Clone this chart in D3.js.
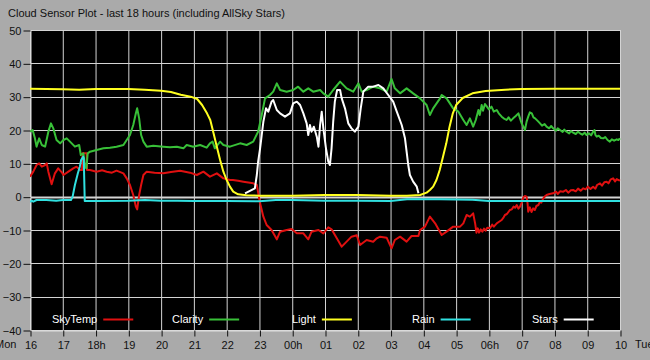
<!DOCTYPE html>
<html><head><meta charset="utf-8">
<script src="https://cdn.jsdelivr.net/npm/d3@7"></script>
<style>
html,body{margin:0;padding:0;background:#aaaaaa;}
svg{display:block;}
text{font-family:"Liberation Sans",Arial,sans-serif;}
</style></head>
<body>
<svg id="chart" width="650" height="360"></svg>
<script>
const title = "Cloud Sensor Plot - last 18 hours (including AllSky Stars)";
const xTickLabels = ["16","17","18h","19","20","21","22","23","00h","01","02","03","04","05","06h","07","08","09","10"];
const yTicks = [-40,-30,-20,-10,0,10,20,30,40,50];
const seriesNames = ["SkyTemp","Clarity","Light","Rain","Stars"];
const seriesColors = ["#e01010","#38c038","#ffff20","#30e0e0","#ffffff"];

// [hours since 16:00, value]
const skyTemp = [[0,6],[0.1,7.5],[0.2,9.5],[0.28,10],[0.36,9],[0.46,9.5],[0.51,10],[0.56,7.5],[0.66,3.7],[0.76,7],[0.86,8.5],[0.97,7.3],[1.02,6.5],[1.17,7.5],[1.32,8.5],[1.42,9],[1.53,8],[1.59,8],[1.6,13],[1.73,13],[1.74,8],[1.83,8],[2.03,7.5],[2.2,7.9],[2.34,7.5],[2.5,7.2],[2.64,7.8],[2.85,7],[2.95,5.5],[3.05,3.5],[3.15,0.5],[3.23,-3],[3.27,-3.8],[3.33,0.5],[3.39,3.5],[3.46,6.5],[3.56,7.5],[3.8,7.2],[4.07,7],[4.3,7.4],[4.58,7.8],[4.88,7.2],[5.09,6.5],[5.29,7.5],[5.49,6],[5.7,7],[5.9,5.5],[6.1,5],[6.19,5],[6.35,4.8],[6.51,4.5],[6.81,4],[6.92,3.5],[7.02,-2],[7.12,-6],[7.22,-8.5],[7.37,-10],[7.53,-12.8],[7.63,-10.5],[7.83,-10],[7.98,-9.7],[8.14,-11],[8.34,-11],[8.49,-12.8],[8.59,-10.5],[8.8,-10],[8.95,-11],[9.1,-9.2],[9.2,-9.8],[9.36,-12.5],[9.51,-15],[9.66,-13.5],[9.81,-12],[9.97,-11.6],[10.07,-14.5],[10.27,-13],[10.47,-13.5],[10.58,-12.5],[10.68,-12],[10.88,-12.3],[11.03,-15.5],[11.13,-13],[11.29,-12],[11.49,-13.5],[11.64,-11.8],[11.85,-11.8],[11.9,-10],[12.05,-9],[12.2,-6],[12.36,-8],[12.56,-11.5],[12.71,-10.5],[12.91,-9],[13.12,-9],[13.22,-8],[13.32,-5.5],[13.42,-6],[13.52,-5],[13.58,-8],[13.62,-10.8],[13.66,-9.5],[13.7,-10.8],[13.75,-9.8],[13.8,-10.5],[13.85,-9.6],[13.9,-10.2],[13.95,-9.3],[14.03,-9.5],[14.1,-8.4],[14.15,-9],[14.24,-8],[14.3,-7.6],[14.39,-7],[14.45,-6.2],[14.49,-5.5],[14.55,-5.2],[14.64,-4],[14.7,-3.8],[14.75,-3],[14.8,-3.3],[14.85,-2.5],[14.9,-3.6],[14.95,-3],[15,-1.8],[15.05,-0.2],[15.1,0.2],[15.15,0],[15.18,-2],[15.2,-4.5],[15.25,-3.2],[15.3,-4.6],[15.35,-3.5],[15.4,-4],[15.45,-2.8],[15.51,-2.5],[15.56,-1.5],[15.6,-1.8],[15.66,-0.5],[15.72,0.2],[15.76,0.5],[15.85,0.8],[15.96,1],[16.05,1.5],[16.1,0.8],[16.17,1.6],[16.27,1.5],[16.35,2],[16.42,1.2],[16.5,1.9],[16.57,2],[16.65,1.6],[16.72,2.4],[16.8,1.8],[16.88,2.5],[16.95,2.2],[17.02,3],[17.1,2.3],[17.18,3],[17.25,2.4],[17.3,3.5],[17.39,4],[17.45,3.3],[17.52,4.3],[17.59,4.5],[17.65,4],[17.72,5.2],[17.79,5.5],[17.85,4.6],[17.9,5.3],[17.95,5],[18,4.8]];

const clarity = [[0,19.5],[0.08,20],[0.15,17.5],[0.2,15],[0.28,17.5],[0.36,15.5],[0.46,15],[0.56,19.5],[0.64,22],[0.71,20.5],[0.81,17],[0.92,16],[1.02,17],[1.12,17.5],[1.22,16.5],[1.37,15],[1.5,15.5],[1.55,12.5],[1.63,13],[1.68,9],[1.72,8.5],[1.76,13],[1.83,13.5],[2.03,14],[2.24,14.5],[2.44,14.7],[2.64,15],[2.85,15.5],[2.95,17],[3.05,18.5],[3.15,21.5],[3.23,25],[3.27,26.5],[3.33,23.5],[3.39,18.5],[3.46,16.5],[3.56,15],[3.76,15.3],[4.07,15],[4.27,14.8],[4.48,15],[4.68,14.5],[4.78,15.5],[4.98,15],[5.19,15.5],[5.39,14.7],[5.49,16],[5.57,16.5],[5.64,14.5],[5.8,16.5],[5.9,15.5],[6.1,15],[6.41,16],[6.61,15.5],[6.81,16.5],[6.96,19.5],[7.07,24.5],[7.17,29.5],[7.32,30.5],[7.42,31.5],[7.53,34],[7.63,32],[7.83,31.5],[8.03,32],[8.18,33],[8.34,31.5],[8.49,32.5],[8.64,31.5],[8.85,32],[8.95,31],[9.1,30],[9.25,32],[9.46,34.5],[9.66,32.5],[9.86,31.5],[10.02,34],[10.12,31.5],[10.27,32],[10.47,33],[10.68,32.5],[10.88,31.5],[11.03,35.3],[11.13,32.5],[11.29,31],[11.49,32.5],[11.69,31],[11.9,29.5],[12.1,27.5],[12.2,24.5],[12.3,26.5],[12.51,29.5],[12.56,30.5],[12.71,29.5],[12.91,26.5],[13.07,25.5],[13.22,23],[13.32,21.5],[13.42,23.5],[13.52,21],[13.6,23],[13.68,26],[13.72,24.5],[13.78,27.5],[13.82,25.8],[13.88,27.8],[13.94,27],[14,26.2],[14.08,27],[14.15,25.5],[14.24,26],[14.3,25],[14.39,24],[14.45,23.5],[14.54,23],[14.6,23.8],[14.67,22.8],[14.74,23.5],[14.82,24.2],[14.9,25],[14.95,23.5],[15,22],[15.05,21],[15.1,20],[15.15,22.5],[15.2,24],[15.25,25.3],[15.31,25],[15.36,23.8],[15.41,23.5],[15.48,22.8],[15.56,22],[15.62,21.3],[15.7,21.8],[15.76,21],[15.84,20.5],[15.9,21.2],[15.96,20.5],[16.05,19.8],[16.1,20.5],[16.17,20],[16.25,19.4],[16.3,20.1],[16.37,19.5],[16.45,19],[16.5,19.7],[16.57,19.2],[16.65,18.8],[16.72,19.5],[16.78,19],[16.85,18.6],[16.92,19.2],[16.98,18.5],[17.05,19],[17.12,18.4],[17.18,19.5],[17.22,20],[17.25,18.5],[17.29,18],[17.35,18.3],[17.42,17.6],[17.49,17.5],[17.55,17.9],[17.62,17],[17.69,16.5],[17.75,17.2],[17.82,16.8],[17.9,17.2],[17.95,17],[18,17.5]];

const light = [[0,32.4],[0.5,32.3],[1,32.2],[1.5,32.1],[2,32.3],[2.5,32.3],[3,32.3],[3.5,32.1],[4,31.8],[4.3,31.4],[4.6,30.6],[4.9,30],[5.1,29.3],[5.25,27.5],[5.4,25],[5.5,23],[5.6,19],[5.7,15],[5.8,11],[5.9,7.5],[6,5],[6.1,3],[6.2,1.5],[6.35,0.7],[6.6,0.4],[7,0.3],[8,0.3],[9,0.5],[10,0.5],[11,0.3],[11.5,0.3],[11.9,0.5],[12.1,1.2],[12.2,2],[12.3,3],[12.4,5],[12.5,8],[12.6,12],[12.7,16],[12.8,21],[12.9,25],[13,27.5],[13.2,29.6],[13.5,31],[13.9,31.7],[14.5,32.1],[15,32.3],[16,32.4],[17,32.4],[18,32.4]];

const rain = [[0,-1.6],[0.05,-1.2],[0.1,-1.5],[0.2,-1],[0.5,-1],[0.8,-1.2],[1,-1],[1.25,-1],[1.3,0],[1.37,3.5],[1.46,7],[1.52,9],[1.56,11],[1.62,12],[1.64,11.5],[1.67,-1.3],[2,-1.3],[3,-1.2],[3.5,-1],[4,-1.2],[4.5,-1.2],[5,-1.3],[6,-1.3],[7,-1.4],[7.5,-1],[8,-1],[9,-1.2],[10,-1.2],[11,-1.3],[11.5,-0.8],[12.5,-0.8],[13.5,-0.9],[14,-1.3],[18,-1.3]];

const stars = [[6.56,1],[6.86,2.5],[6.92,6.5],[6.96,10.5],[7.02,14.5],[7.07,18.5],[7.12,22.5],[7.2,26.5],[7.27,25.5],[7.37,28.5],[7.42,29],[7.53,26],[7.63,25],[7.78,24],[7.93,25],[8.03,28],[8.14,28.5],[8.24,27.5],[8.34,25],[8.44,22],[8.49,18.5],[8.54,21.5],[8.59,19.5],[8.66,21],[8.75,18],[8.8,15],[8.85,21.5],[8.9,25.5],[8.95,20.5],[9.03,14.5],[9.1,10.5],[9.15,9.5],[9.2,14.5],[9.25,22.5],[9.3,28.5],[9.37,32],[9.46,32],[9.51,29.5],[9.61,26.5],[9.71,22],[9.81,20.5],[9.91,19.5],[10.02,21],[10.09,26.5],[10.17,31.5],[10.32,33],[10.47,33],[10.63,33.5],[10.78,32.5],[10.93,30.5],[11.08,28.5],[11.19,25.5],[11.34,21.5],[11.44,17.5],[11.49,13.5],[11.54,9.5],[11.59,6.5],[11.69,4.5],[11.8,3],[11.85,1]];

const allSeries = [skyTemp, clarity, light, rain, stars];

const svg = d3.select("#chart");
const x = d3.scaleLinear().domain([0,18]).range([30,620]);
const y = d3.scaleLinear().domain([-40,50]).range([330,30]);

svg.append("text").attr("x",8).attr("y",17).attr("font-size",11).attr("fill","#111").text(title);

svg.append("rect").attr("x",x(0)).attr("y",y(50)).attr("width",x(18)-x(0)).attr("height",y(-40)-y(50)).attr("fill","#000");

// grid
const g = svg.append("g");
g.selectAll("line.v").data(d3.range(0,19)).enter().append("line")
  .attr("x1",d=>x(d)+0.5).attr("x2",d=>x(d)+0.5).attr("y1",y(50)).attr("y2",y(-40))
  .attr("stroke","#d4d4d4").attr("stroke-width",1);
g.selectAll("line.h").data(yTicks).enter().append("line")
  .attr("x1",x(0)).attr("x2",x(18)+1).attr("y1",d=>Math.round(y(d))+0.5).attr("y2",d=>Math.round(y(d))+0.5)
  .attr("stroke","#d4d4d4").attr("stroke-width",d=>d===0?2:1);

// axes
const xAxis = d3.axisBottom(x).tickValues(d3.range(0,19)).tickFormat((d,i)=>xTickLabels[i]).tickSize(6).tickSizeOuter(0);
const ax = svg.append("g").attr("transform","translate(0.5,"+(y(-40)+0.5)+")").call(xAxis);
ax.select(".domain").attr("stroke","#e0e0e0");
ax.selectAll(".tick line").attr("stroke","#111");
ax.selectAll(".tick text").attr("font-size",11).attr("fill","#111").attr("font-family","Liberation Sans, Arial, sans-serif").attr("dy","0.9em");

const yAxis = d3.axisLeft(y).tickValues(yTicks).tickSize(7).tickSizeOuter(0);
const ay = svg.append("g").attr("transform","translate("+(x(0)+0.5)+",0.5)").call(yAxis);
ay.select(".domain").attr("stroke","#e0e0e0");
ay.selectAll(".tick line").attr("stroke","#111");
ay.selectAll(".tick text").attr("font-size",11).attr("fill","#111").attr("font-family","Liberation Sans, Arial, sans-serif").attr("x",-9);

svg.append("text").attr("x",16.5).attr("y",348).attr("text-anchor","end").attr("font-size",11).attr("fill","#111").text("Mon");
svg.append("text").attr("x",635).attr("y",348).attr("font-size",11).attr("fill","#111").text("Tue");

// series
svg.append("clipPath").attr("id","pc").append("rect").attr("x",x(0)).attr("y",y(50)).attr("width",x(18)-x(0)+1).attr("height",y(-40)-y(50));
const line = d3.line().x(d=>x(d[0])).y(d=>y(d[1]));
const sg = svg.append("g").attr("clip-path","url(#pc)");
allSeries.forEach((s,i)=>{
  sg.append("path").datum(s).attr("d",line).attr("fill","none")
    .attr("stroke",seriesColors[i]).attr("stroke-width",2).attr("stroke-linejoin","round");
});

// legend
const legTextX = [52,172,292,412,532];
const leg = svg.append("g");
seriesNames.forEach((n,i)=>{
  const t = leg.append("text").attr("x",legTextX[i]).attr("y",323).attr("font-size",11).attr("fill","#fff").text(n);
  const w = t.node().getComputedTextLength();
  leg.append("line").attr("x1",legTextX[i]+w+6).attr("x2",legTextX[i]+w+36).attr("y1",319.5).attr("y2",319.5)
    .attr("stroke",seriesColors[i]).attr("stroke-width",2);
});
</script>
</body></html>
